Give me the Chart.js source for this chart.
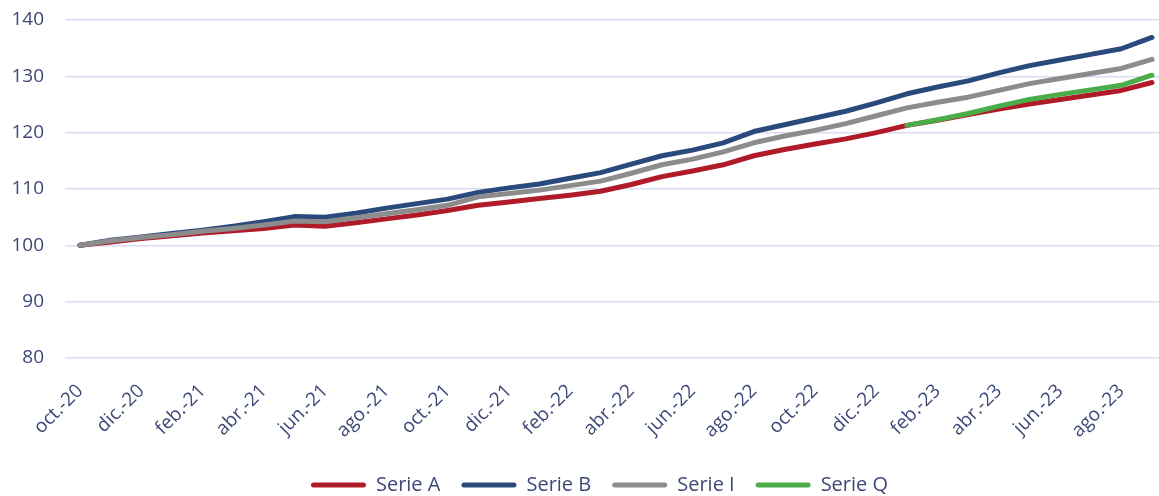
<!DOCTYPE html>
<html>
<head>
<meta charset="utf-8">
<script src="https://cdn.jsdelivr.net/npm/chart.js@4/dist/chart.umd.min.js"></script>
<style>
html,body{margin:0;padding:0;background:#fff;overflow:hidden;}
#wrap{width:1159px;height:496px;position:relative;}
</style>
</head>
<body>
<div id="wrap"><canvas id="c" width="1159" height="496"></canvas></div>
<script>
const months = ["oct.-20","nov.-20","dic.-20","ene.-21","feb.-21","mar.-21","abr.-21","may.-21","jun.-21","jul.-21","ago.-21","sep.-21",
"oct.-21","nov.-21","dic.-21","ene.-22","feb.-22","mar.-22","abr.-22","may.-22","jun.-22","jul.-22","ago.-22","sep.-22",
"oct.-22","nov.-22","dic.-22","ene.-23","feb.-23","mar.-23","abr.-23","may.-23","jun.-23","jul.-23","ago.-23","sep.-23"];
const serieA = [100.0,100.6,101.2,101.7,102.2,102.6,103.0,103.6,103.4,104.0,104.7,105.4,
106.2,107.1,107.7,108.3,108.9,109.6,110.8,112.2,113.2,114.3,115.9,117.0,
118.0,118.9,120.0,121.3,122.2,123.2,124.2,125.1,125.9,126.7,127.5,128.9];
const serieB = [100.0,100.9,101.5,102.1,102.7,103.4,104.2,105.1,105.0,105.7,106.6,107.4,
108.2,109.4,110.2,110.9,111.9,112.9,114.4,115.9,116.9,118.2,120.2,121.4,
122.6,123.8,125.3,126.9,128.1,129.2,130.6,131.9,132.9,133.9,134.9,136.9];
const serieI = [100.0,100.8,101.4,101.9,102.5,103.0,103.6,104.3,104.2,104.9,105.6,106.3,
107.1,108.6,109.2,109.8,110.6,111.4,112.8,114.3,115.3,116.6,118.2,119.4,
120.4,121.6,123.0,124.4,125.4,126.3,127.5,128.7,129.6,130.5,131.4,133.0];
const serieQ = [null,null,null,null,null,null,null,null,null,null,null,null,
null,null,null,null,null,null,null,null,null,null,null,null,
null,null,null,121.3,122.3,123.4,124.7,125.9,126.8,127.6,128.4,130.2];
const yTicks = [80,90,100,110,120,130,140];

const FONT = "'Open Sans', 'Noto Sans', sans-serif";
const TXT = '#3d4877';
function pts(arr){ return arr.map((v,i)=>({x:i,y:v})); }
function ds(label, data, color, order){
  return {label, data: pts(data), borderColor: color, backgroundColor: color, borderWidth: 5,
    pointRadius: 0, tension: 0, borderCapStyle: 'round', borderJoinStyle: 'round', spanGaps: false, order};
}
const shiftLegend = {
  id: 'shiftLegend',
  afterLayout(chart) {
    const lg = chart.legend;
    if (lg) { lg.left += 20; lg.right += 20; }
  }
};
new Chart(document.getElementById('c'), {
  type: 'line',
  plugins: [shiftLegend],
  data: { datasets: [
    ds('Serie A', serieA, '#b01b2a', 3),
    ds('Serie B', serieB, '#2a4a7d', 2),
    ds('Serie I', serieI, '#8c8c8c', 1),
    ds('Serie Q', serieQ, '#4aad48', 0)
  ]},
  options: {
    responsive: false, animation: false,
    layout: { padding: { left: 0, right: 0, top: 20, bottom: -9 } },
    plugins: {
      tooltip: { enabled: false },
      legend: {
        position: 'bottom',
        labels: {
          font: { family: FONT, size: 20 }, color: TXT,
          boxWidth: 55, boxHeight: 5, useBorderRadius: true, borderRadius: 2.5, padding: 21,
          sort: (a,b) => a.datasetIndex - b.datasetIndex,
          generateLabels: (chart) => {
            const items = Chart.defaults.plugins.legend.labels.generateLabels(chart);
            items.forEach(it => { it.lineWidth = 0; });
            return items;
          }
        }
      }
    },
    scales: {
      x: {
        type: 'linear', min: -0.49, max: 35.23,
        grid: { display: false }, border: { display: false },
        afterBuildTicks: (s) => { s.ticks = months.map((m,i)=>({value:i})).filter(t => t.value % 2 === 0); },
        afterFit: (s) => { s.height = 96; s.paddingTop = 0; s.paddingBottom = 0; s.paddingLeft = 0; s.paddingRight = 0; },
        ticks: {
          autoSkip: false, minRotation: 45, maxRotation: 45, padding: 14,
          font: { family: FONT, size: 19 }, color: TXT,
          callback: (v) => months[v]
        }
      },
      y: {
        min: 80, max: 140,
        afterBuildTicks: (s) => { s.ticks = yTicks.map(v => ({value: v})); },
        afterFit: (s) => { s.width = 65; s.paddingTop = 0; s.paddingBottom = 0; },
        grid: { color: '#dadcef', lineWidth: 1.5, drawTicks: false },
        border: { display: false },
        ticks: { padding: 21, font: { family: FONT, size: 19 }, color: TXT }
      }
    }
  }
});
</script>
</body>
</html>
